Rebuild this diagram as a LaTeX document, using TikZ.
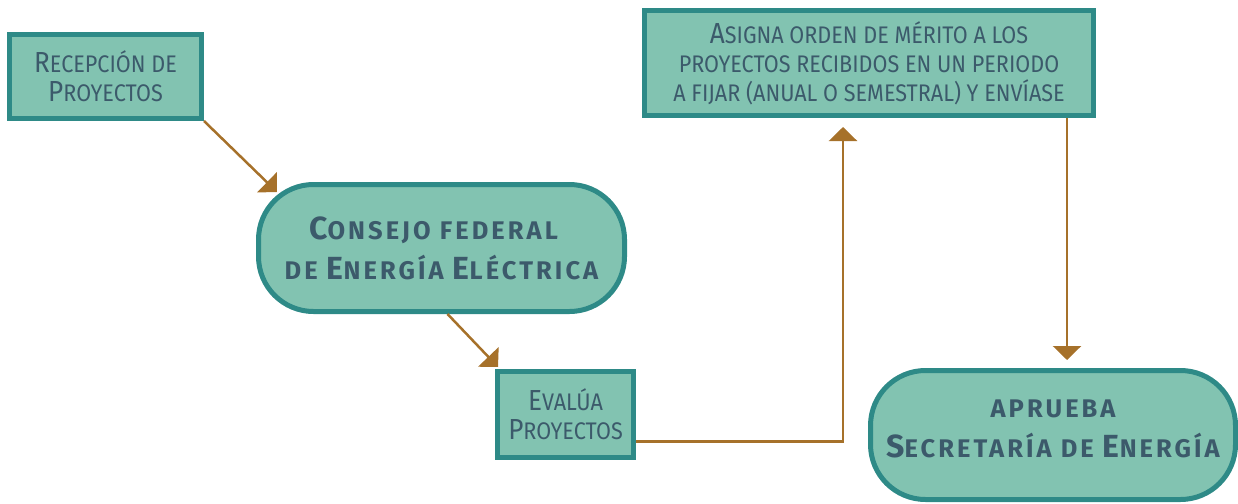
\documentclass[tikz,border=0pt]{standalone}
\usepackage{fontspec}
\newfontfamily\boxfont[FakeStretch=0.9]{Fira Sans}
\newfontfamily\headfont[LetterSpace=12]{Fira Sans}
\usetikzlibrary{arrows.meta}

\definecolor{boxfill}{HTML}{82C3B1}
\definecolor{boxline}{HTML}{2E8A87}
\definecolor{boxtext}{HTML}{3C5A6B}
\definecolor{flowline}{HTML}{A6712A}

% first letter large, rest as small capitals
\newcommand\capsize{29}
\newcommand\initcap[2]{{\fontsize{\capsize}{\baselineskip}\selectfont #1}#2}

\begin{document}
\begin{tikzpicture}[x=1pt,y=1pt,
  stepbox/.style={draw=boxline,fill=boxfill,line width=5pt,text=boxtext,
    align=center,inner sep=0pt,font=\boxfont\fontsize{24}{29}\selectfont},
  bodybox/.style={draw=boxline,fill=boxfill,line width=5pt,text=boxtext,
    rounded corners=55pt,align=center,inner sep=0pt,
    font=\headfont\bfseries\fontsize{25.5}{40}\selectfont\renewcommand\capsize{32}},
  flow/.style={color=flowline,line width=2.5pt,-{Triangle[length=14pt,width=28pt]}}]
  \useasboundingbox (0,0) rectangle (1238,-503);

  \node[stepbox, minimum width=192pt, minimum height=84pt]  (recep)   at (105.5,-76.5)
    {\initcap{R}{ECEPCIÓN DE}\\\initcap{P}{ROYECTOS}};
  \node[bodybox, minimum width=366pt, minimum height=127pt] (consejo) at (441.5,-248)
    {\initcap{C}{ONSEJO FEDERAL}\hspace*{16pt}\\DE \initcap{E}{NERGÍA} \initcap{E}{LÉCTRICA}};
  \node[stepbox, minimum width=136pt, minimum height=86pt]  (evalua)  at (565.5,-414.5)
    {\initcap{E}{VALÚA}\\\initcap{P}{ROYECTOS}};
  \node[stepbox, minimum width=449pt, minimum height=105pt] (asigna)  at (869,-63)
    {\initcap{A}{SIGNA ORDEN DE MÉRITO A LOS}\\PROYECTOS RECIBIDOS EN UN PERIODO\\A FIJAR (ANUAL O SEMESTRAL) Y ENVÍASE};
  \node[bodybox, minimum width=365pt, minimum height=129pt, text depth=12pt] (aprueba) at (1053,-435)
    {APRUEBA\\\initcap{S}{ECRETARÍA DE} \initcap{E}{NERGÍA}};

  \coordinate (consejoin) at (277,-192);

  \path
  (recep.south east)
  edge [flow] (consejoin)

  ([xshift=6pt]consejo.south)
  edge [flow] ([xshift=3pt,yshift=2pt]evalua.north west)

  ([yshift=-27pt]evalua.east)
  edge [flow, to path={-| (\tikztotarget)}] ([xshift=-26pt,yshift=-9pt]asigna.south)

  ([xshift=198pt]asigna.south)
  edge [flow] ([xshift=14pt,yshift=8pt]aprueba.north)
;
\end{tikzpicture}
\end{document}
